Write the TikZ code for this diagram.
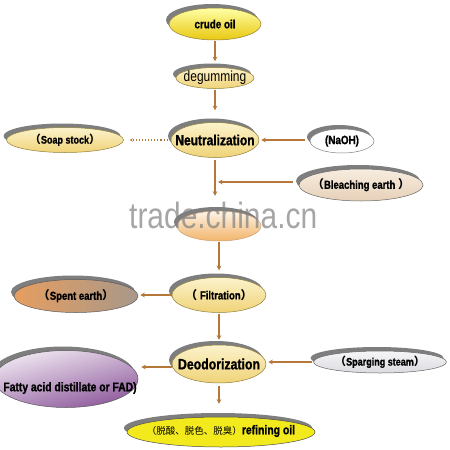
\documentclass[tikz,border=0pt]{standalone}
\usepackage{fontspec}
\setmainfont[FakeStretch=0.82, BoldFeatures={FakeBold=1.2}]{Liberation Sans}
\newfontfamily\cjk{Noto Sans CJK SC}
\usetikzlibrary{arrows.meta,shadows,shapes.geometric}
\definecolor{brn}{HTML}{B5773A}
\definecolor{shd}{HTML}{7E7E7E}
\definecolor{edgey}{HTML}{8F7F3A}
\tikzset{
  oval/.style={ellipse, draw=edgey, line width=0.5pt, inner sep=0pt,
    drop shadow={shadow xshift=-3pt, shadow yshift=4pt, fill=shd, opacity=1}},
  lab/.style={font=\bfseries\fontsize{11.6}{12}\selectfont},
  arr/.style={draw=brn, line width=1.1pt, -{Stealth[length=4.5pt,width=4.5pt]}},
}
\newcommand{\lp}{{\cjk （}}
\newcommand{\rp}{{\cjk ）}}
\begin{document}
\begin{tikzpicture}[x=1pt,y=-1pt]
\useasboundingbox (0,0) rectangle (450,450);
% nodes
\node[oval, minimum width=92pt, minimum height=32pt, top color=yellow!35!white, bottom color={rgb,255:red,232;green,200;blue,16},
  label={[font=\bfseries\fontsize{12}{12}\selectfont]center:{crude oil}}] (crude) at (215,24) {};
\node[oval, minimum width=78pt, minimum height=21pt, top color={rgb,255:red,252;green,243;blue,204}, bottom color={rgb,255:red,240;green,211;blue,120},
  label={[font=\fontsize{14.6}{14}\selectfont]center:{degumming}}] (degum) at (215,78) {};
\node[oval, minimum width=88pt, minimum height=35pt, top color={rgb,255:red,252;green,243;blue,204}, bottom color={rgb,255:red,240;green,211;blue,120},
  label={[font=\bfseries\fontsize{14.6}{14}\selectfont]center:{Neutralization}}] (neut) at (215,140) {};
\node[oval, minimum width=117pt, minimum height=25pt, top color={rgb,255:red,252;green,243;blue,204}, bottom color={rgb,255:red,240;green,211;blue,120},
  label={[lab, font=\bfseries\fontsize{11}{12}\selectfont]center:{\lp Soap stock\rp}}] (soap) at (65,140) {};
\node[oval, draw=gray, minimum width=64pt, minimum height=24pt, fill=white,
  label={[lab, font=\bfseries\fontsize{12}{12}\selectfont]center:{(NaOH)}}] (naoh) at (342,141) {};
\node[oval, draw=gray!80!black, minimum width=124pt, minimum height=32pt, top color={rgb,255:red,247;green,237;blue,224}, bottom color={rgb,255:red,230;green,208;blue,184},
  label={[lab]center:{\lp Bleaching earth \rp}}] (bleach) at (361,185) {};
\node[oval, draw=brn!70, minimum width=84pt, minimum height=30pt, top color={rgb,255:red,253;green,244;blue,230}, bottom color={rgb,255:red,242;green,180;blue,106}] (mid) at (219,226) {};
\node[oval, minimum width=94pt, minimum height=35pt, top color={rgb,255:red,252;green,243;blue,204}, bottom color={rgb,255:red,240;green,211;blue,120},
  label={[lab]center:{\lp\ Filtration\rp}}] (filt) at (219,295) {};
\node[oval, draw=gray!70!black, minimum width=124pt, minimum height=33pt, left color={rgb,255:red,230;green,158;blue,96}, right color={rgb,255:red,168;green,152;blue,138},
  label={[lab]center:{\lp Spent earth\rp}}] (spent) at (76,296) {};
\node[oval, minimum width=94pt, minimum height=38pt, top color={rgb,255:red,252;green,243;blue,204}, bottom color={rgb,255:red,240;green,211;blue,120},
  label={[font=\bfseries\fontsize{15}{14}\selectfont]center:{Deodorization}}] (deod) at (219,364) {};
\node[oval, draw=gray!80!black, minimum width=133pt, minimum height=22pt, top color={rgb,255:red,246;green,246;blue,248}, bottom color={rgb,255:red,218;green,218;blue,224},
  label={[lab, font=\bfseries\fontsize{11}{12}\selectfont]center:{\lp Sparging steam\rp}}] (sparg) at (380,362) {};
\node[oval, draw=gray!70!black, minimum width=144pt, minimum height=57pt, top color={rgb,255:red,240;green,232;blue,242}, bottom color={rgb,255:red,142;green,90;blue,156}, shading angle=15,
  label={[font=\bfseries\fontsize{12.6}{12}\selectfont, xshift=4pt, yshift=-9pt]center:{Fatty acid distillate or FAD)}}] (fatty) at (66,379) {};
\node[oval, draw=gray!60!black, minimum width=188pt, minimum height=30pt, fill={rgb,255:red,242;green,234;blue,28},
  label={[yshift=1pt]center:{{\cjk\fontsize{9.5}{10}\selectfont （脱酸、脱色、脱臭）}{\bfseries\fontsize{12.7}{12}\selectfont refining oil}}}] (refine) at (221,432) {};
% watermark
\node[anchor=base west, inner sep=0pt, font=\fontsize{36.5}{30}\selectfont, text=gray, opacity=0.7] (wm) at (129,228) {trade.china.cn};
% connectors
\coordinate (bj) at (218,182);
\draw[arr, shorten <=1pt, shorten >=6pt] (crude.south) -- (degum.north);
\draw[arr, shorten <=1pt, shorten >=12pt] (degum.south) -- (neut.north);
\draw[arr, dotted, -{Stealth[length=3pt,width=3pt]}, shorten <=3pt, shorten >=6pt] (neut.west) -- (soap.east);
\draw[arr, shorten <=5pt, shorten >=2pt] (naoh.west |- neut.east) -- (neut.east);
\draw[arr, shorten <=2pt, shorten >=15pt] (neut.south) -- (neut.south |- mid.north);
\draw[arr, shorten <=6pt] (bj -| bleach.west) -- (bj);
\draw[arr, shorten <=1pt, shorten >=7pt] (mid.south) -- (filt.north);
\draw[arr, shorten >=2pt] (filt.west) -- (filt.west -| spent.east);
\draw[arr, shorten <=1pt, shorten >=5pt] (filt.south) -- (deod.north);
\draw[arr, shorten <=1pt, shorten >=2pt] (sparg.west) -- (sparg.west -| deod.east);
\draw[arr, shorten >=3pt] ([yshift=-3pt]deod.west) -- ([yshift=-3pt]deod.west -| fatty.east);
\draw[arr, shorten <=3pt, shorten >=13pt] (deod.south) -- (deod.south |- refine.north);
\end{tikzpicture}
\end{document}
